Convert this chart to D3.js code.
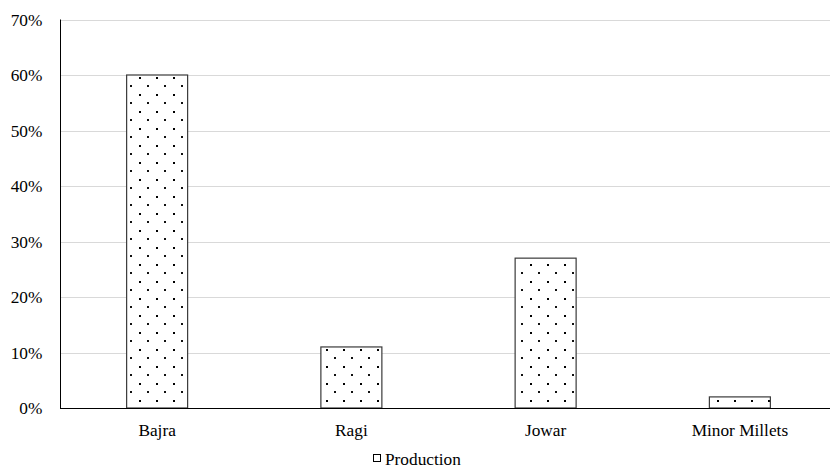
<!DOCTYPE html>
<html>
<head>
<meta charset="utf-8">
<script src="https://cdn.jsdelivr.net/npm/d3@7"></script>
<style>
  html, body { margin: 0; padding: 0; background: #fff; }
  svg { display: block; }
</style>
</head>
<body>
<svg id="chart" width="830" height="468"></svg>
<script>
const categories = ["Bajra", "Ragi", "Jowar", "Minor Millets"];
const production = [0.60, 0.11, 0.27, 0.02];
const yTicks = [0, 0.1, 0.2, 0.3, 0.4, 0.5, 0.6, 0.7];
const seriesName = "Production";

const FONT = '"Liberation Serif", "Times New Roman", serif';
const FS = 17.3;
const svg = d3.select("#chart");
const plotLeft = 60, plotRight = 837, plotTop = 19.5, plotBottom = 408;

const x = d3.scaleBand().domain(categories).range([plotLeft, plotRight]).paddingInner(0.686).paddingOuter(0.343);
const y = d3.scaleLinear().domain([0, 0.7]).range([plotBottom, plotTop]);

// dotted fill pattern
const defs = svg.append("defs");
const pat = defs.append("pattern").attr("id", "dots")
  .attr("patternUnits", "userSpaceOnUse")
  .attr("width", 17).attr("height", 17)
  .attr("x", 3).attr("y", 9);
pat.append("rect").attr("width", 17).attr("height", 17).attr("fill", "#fff");
pat.append("rect").attr("x", 0).attr("y", 0).attr("width", 2).attr("height", 2).attr("fill", "#000");
pat.append("rect").attr("x", 8).attr("y", 8).attr("width", 2).attr("height", 2).attr("fill", "#111");

// gridlines
svg.append("g").selectAll("line").data(yTicks.filter(d => d > 0)).join("line")
  .attr("x1", plotLeft).attr("x2", 830)
  .attr("y1", d => Math.round(y(d)) + 0.5).attr("y2", d => Math.round(y(d)) + 0.5)
  .attr("stroke", "#d9d9d9").attr("stroke-width", 1);

// y axis labels
const yAxis = d3.axisLeft(y).tickValues(yTicks).tickFormat(d3.format(".0%")).tickSize(0).tickPadding(17.7);
const gy = svg.append("g").attr("transform", `translate(${plotLeft},0)`).call(yAxis)
  .attr("font-family", FONT).attr("font-size", FS);
gy.select(".domain").remove();
gy.selectAll("text").attr("fill", "#000");

// bars
svg.append("g").selectAll("rect").data(categories).join("rect")
  .attr("x", d => x(d))
  .attr("y", (d, i) => y(production[i]))
  .attr("width", x.bandwidth())
  .attr("height", (d, i) => plotBottom - y(production[i]))
  .attr("fill", "url(#dots)")
  .attr("stroke", "#3a3a3a").attr("stroke-width", 1.2);

// axis lines
svg.append("line").attr("x1", plotLeft + 0.5).attr("x2", plotLeft + 0.5).attr("y1", plotTop).attr("y2", plotBottom)
  .attr("stroke", "#000").attr("stroke-width", 1);
svg.append("line").attr("x1", plotLeft).attr("x2", 830).attr("y1", plotBottom + 0.5).attr("y2", plotBottom + 0.5)
  .attr("stroke", "#000").attr("stroke-width", 1);

// x axis labels
const xAxis = d3.axisBottom(x).tickSize(0).tickPadding(15.4);
const gx = svg.append("g").attr("transform", `translate(0,${plotBottom})`).call(xAxis)
  .attr("font-family", FONT).attr("font-size", FS);
gx.select(".domain").remove();
gx.selectAll("text").attr("fill", "#000");

// legend
const lg = svg.append("g");
lg.append("rect").attr("x", 373.5).attr("y", 454.5).attr("width", 7).attr("height", 7)
  .attr("fill", "#fff").attr("stroke", "#000").attr("stroke-width", 1);
lg.append("text").attr("x", 385).attr("y", 465).attr("font-family", FONT).attr("font-size", FS)
  .attr("fill", "#000").text(seriesName);
</script>
</body>
</html>
